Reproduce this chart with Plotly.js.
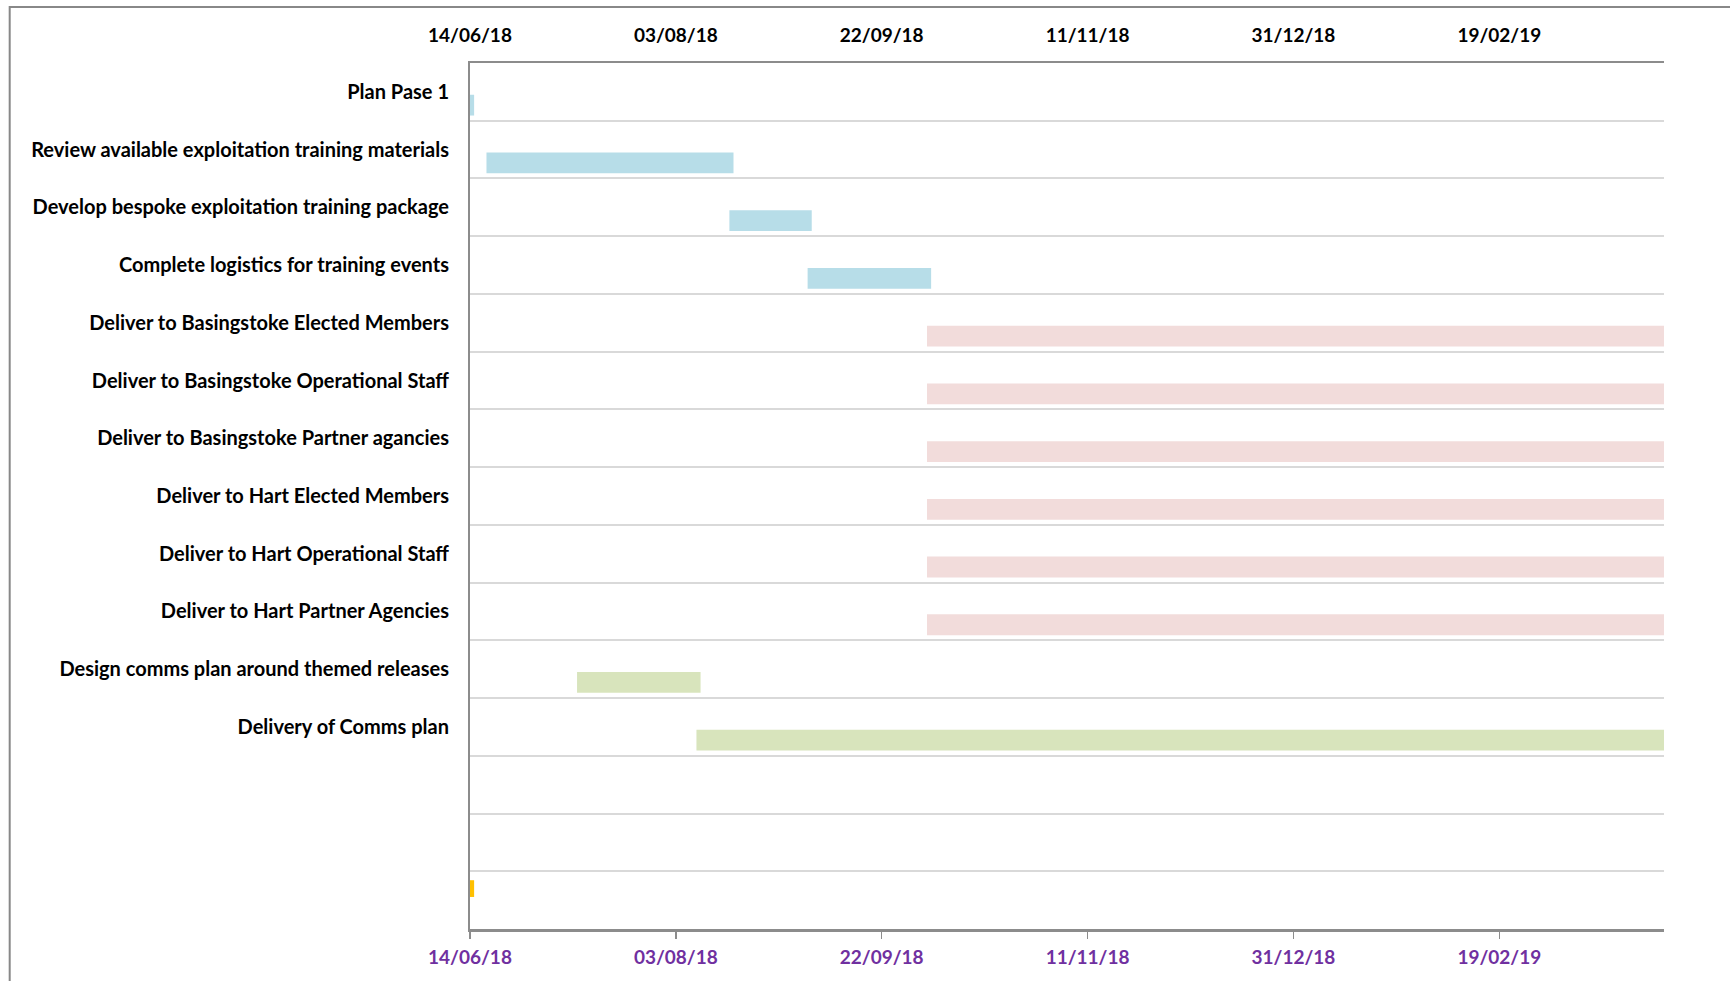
<!DOCTYPE html>
<html>
<head>
<meta charset="utf-8">
<script src="https://cdn.plot.ly/plotly-3.0.1.min.js"></script>
<style>
html, body { margin: 0; padding: 0; background: #ffffff; }
#chart { width: 1730px; height: 981px; }
</style>
</head>
<body>
<div id="chart"></div>
<script>
// ---- data ----
const tasks = [
  'Plan Pase 1',
  'Review available exploitation training materials',
  'Develop bespoke exploitation training package',
  'Complete logistics for training events',
  'Deliver to Basingstoke Elected Members',
  'Deliver to Basingstoke Operational Staff',
  'Deliver to Basingstoke Partner agancies',
  'Deliver to Hart Elected Members',
  'Deliver to Hart Operational Staff',
  'Deliver to Hart Partner Agencies',
  'Design comms plan around themed releases',
  'Delivery of Comms plan'
];
const taskStart = [
  '2018-06-14', '2018-06-18', '2018-08-16', '2018-09-04',
  '2018-10-03', '2018-10-03', '2018-10-03', '2018-10-03', '2018-10-03', '2018-10-03',
  '2018-07-10', '2018-08-08'
];
const taskEnd = [
  '2018-06-15', '2018-08-17', '2018-09-05', '2018-10-04',
  '2019-03-31', '2019-03-31', '2019-03-31', '2019-03-31', '2019-03-31', '2019-03-31',
  '2018-08-09', '2019-03-31'
];
const taskPhase = [
  'prep', 'prep', 'prep', 'prep',
  'deliver', 'deliver', 'deliver', 'deliver', 'deliver', 'deliver',
  'comms', 'comms'
];
const phaseColors = { prep: '#b7dde8', deliver: '#f2dcdb', comms: '#d8e4bc' };

// today marker (yellow) sits in the last, unlabelled row
const rowLabels = tasks.concat(['', '', '']);
const todayRow = [14];
const todayStart = ['2018-06-14'];
const todayEnd = ['2018-06-15'];

const axisStart = '2018-06-14';
const axisEnd = '2019-03-31';
const tickStepDays = 50;

// ---- derived ----
const DAY = 86400000;
const ms = s => Date.parse(s + 'T00:00:00Z');
const durations = taskStart.map((s, i) => ms(taskEnd[i]) - ms(s));
const rowIdx = rowLabels.map((_, i) => i);
const boundaries = rowLabels.slice(1).map((_, i) => i + 0.5);

const grey = '#8c8c8c';
const tickFontTop = { family: 'Lato, "Open Sans", sans-serif', size: 19, color: '#000000', weight: 700 };
const tickFontBottom = { family: 'Lato, "Open Sans", sans-serif', size: 19, color: '#7030a0', weight: 700 };

const traces = [
  {
    type: 'bar',
    orientation: 'h',
    y: tasks.map((_, i) => i),
    x: durations,
    base: taskStart,
    width: 0.36,
    offset: 0.05,
    marker: { color: taskPhase.map(p => phaseColors[p]), line: { width: 0 } },
    xaxis: 'x',
    yaxis: 'y',
    hoverinfo: 'skip',
    showlegend: false
  },
  {
    type: 'bar',
    orientation: 'h',
    y: todayRow,
    x: todayStart.map((s, i) => ms(todayEnd[i]) - ms(s)),
    base: todayStart,
    width: 0.29,
    offset: -0.345,
    marker: { color: '#ffc000', line: { width: 0 } },
    xaxis: 'x2',
    yaxis: 'y',
    hoverinfo: 'skip',
    showlegend: false
  }
];

const W = 1730, H = 981;
const L = 469.5, R = 66, T = 63, B = 52;
const pw = W - L - R, ph = H - T - B;

const layout = {
  width: W,
  height: H,
  margin: { l: L, r: R, t: T, b: B, pad: 0 },
  paper_bgcolor: '#ffffff',
  plot_bgcolor: '#ffffff',
  barmode: 'overlay',
  showlegend: false,
  xaxis: {
    type: 'date',
    range: [axisStart, axisEnd],
    tick0: axisStart,
    dtick: tickStepDays * DAY,
    tickformat: '%d/%m/%y',
    tickfont: tickFontBottom,
    showgrid: false,
    zeroline: false,
    showline: true,
    linecolor: grey,
    linewidth: 2.5,
    ticks: 'outside',
    ticklen: 7,
    tickwidth: 1.5,
    tickcolor: grey,
    ticklabelstandoff: 3,
    anchor: 'y',
    side: 'bottom'
  },
  xaxis2: {
    type: 'date',
    range: [axisStart, axisEnd],
    tick0: axisStart,
    dtick: tickStepDays * DAY,
    tickformat: '%d/%m/%y',
    tickfont: tickFontTop,
    showgrid: false,
    zeroline: false,
    showline: true,
    linecolor: grey,
    linewidth: 2,
    ticks: '',
    ticklabelstandoff: 11,
    overlaying: 'x',
    anchor: 'y',
    side: 'top'
  },
  yaxis: {
    type: 'linear',
    range: [rowLabels.length - 0.5, -0.5],
    tickmode: 'array',
    tickvals: rowIdx,
    ticktext: rowLabels,
    tickfont: { family: 'Lato, "Open Sans", sans-serif', size: 20, color: '#000000', weight: 700 },
    ticks: '',
    ticklabelstandoff: 15,
    showgrid: false,
    zeroline: false,
    showline: true,
    linecolor: grey,
    linewidth: 2,
    minor: {
      tickmode: 'array',
      tickvals: boundaries,
      showgrid: true,
      gridcolor: '#d9d9d9',
      gridwidth: 2,
      ticks: ''
    }
  },
  shapes: [
    {
      type: 'rect',
      xref: 'paper', yref: 'paper',
      x0: (9 - L) / pw, x1: (W + 20 - L) / pw,
      y0: -(B + 20) / ph, y1: 1 + (T - 7) / ph,
      line: { color: '#888888', width: 2 },
      fillcolor: 'rgba(0,0,0,0)',
      layer: 'below'
    }
  ]
};

Plotly.newPlot('chart', traces, layout, { displayModeBar: false, staticPlot: true });
</script>
</body>
</html>
